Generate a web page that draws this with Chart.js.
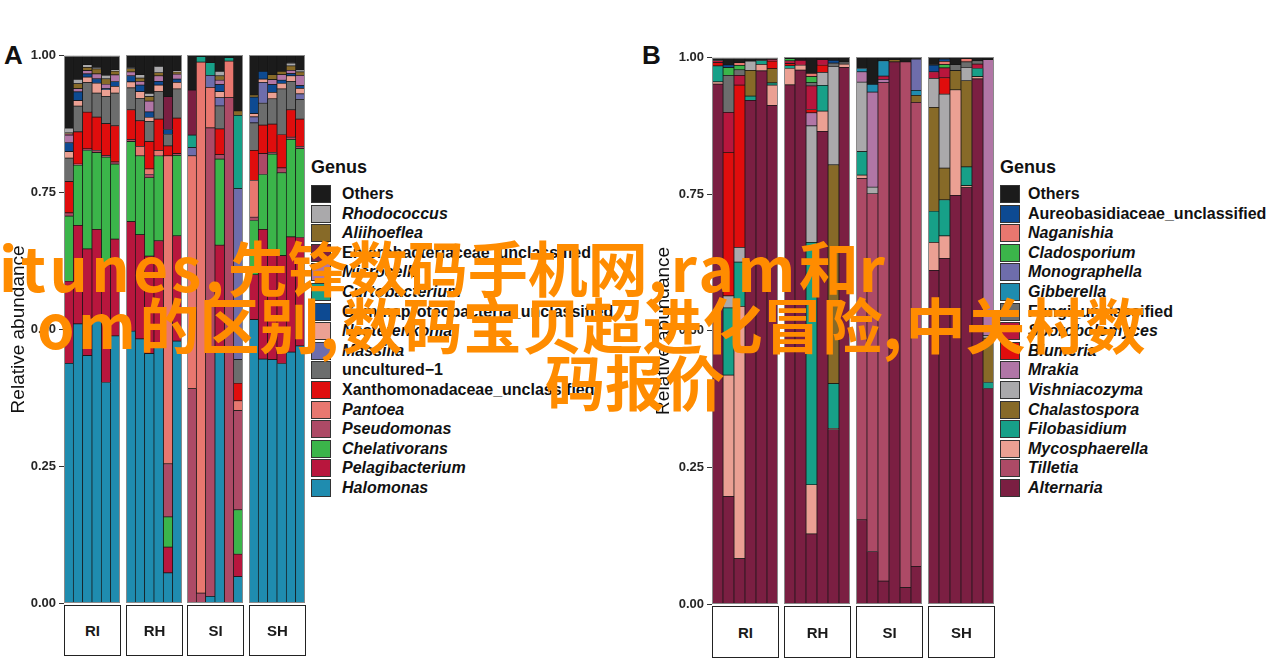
<!DOCTYPE html>
<html>
<head>
<meta charset="utf-8">
<script src="https://cdn.jsdelivr.net/npm/chart.js@4.4.1/dist/chart.umd.min.js"></script>
<style>
  html, body { margin: 0; padding: 0; background: #fff; }
  #page { position: relative; width: 1270px; height: 663px; overflow: hidden; font-family: "Liberation Sans", Arial, sans-serif; }
  canvas { position: absolute; }
  .tag { position: absolute; font: bold 26px "Liberation Sans", Arial, sans-serif; color: #111; }
  .strip { position: absolute; box-sizing: border-box; border: 1px solid #222; background: #fff;
           display: flex; align-items: center; justify-content: center; font: bold 15px "Liberation Sans", Arial, sans-serif; color: #1a1a1a; }
  .legend { position: absolute; }
  .legend .title { position: absolute; left: 0; top: 0; font: bold 18px "Liberation Sans", Arial, sans-serif; color: #111; white-space: nowrap; }
  .legend .key { position: absolute; left: 0; width: 20px; height: 18px; box-sizing: border-box; border: 1px solid #333; }
  .legend .lab { position: absolute; font: bold 16px "Liberation Sans", Arial, sans-serif; color: #111; white-space: nowrap; }
  .ovl { position: absolute; font: bold 60px "Noto Sans CJK SC", sans-serif; line-height: 60px; color: #ff8c00; white-space: nowrap; z-index: 5; }
  .ovl span { letter-spacing: 3.5px; }
</style>
</head>
<body>
<div id="page">
  <div class="tag" style="left:4px;top:40px">A</div>
  <div class="tag" style="left:642px;top:40px">B</div>

  <canvas id="aRI" width="120" height="570" style="left:0px;top:45px"></canvas>
  <canvas id="aRH" width="56" height="570" style="left:126px;top:45px"></canvas>
  <canvas id="aSI" width="56" height="570" style="left:187px;top:45px"></canvas>
  <canvas id="aSH" width="56" height="570" style="left:249px;top:45px"></canvas>

  <canvas id="bRI" width="133" height="570" style="left:645px;top:47px"></canvas>
  <canvas id="bRH" width="66" height="570" style="left:784px;top:47px"></canvas>
  <canvas id="bSI" width="66" height="570" style="left:856px;top:47px"></canvas>
  <canvas id="bSH" width="66" height="570" style="left:928px;top:47px"></canvas>

  <div class="strip" style="left:64px;top:605px;width:57px;height:51px">RI</div>
  <div class="strip" style="left:126px;top:605px;width:57px;height:51px">RH</div>
  <div class="strip" style="left:187px;top:605px;width:57px;height:51px">SI</div>
  <div class="strip" style="left:249px;top:605px;width:57px;height:51px">SH</div>

  <div class="strip" style="left:712px;top:606px;width:67px;height:52px">RI</div>
  <div class="strip" style="left:784px;top:606px;width:67px;height:52px">RH</div>
  <div class="strip" style="left:856px;top:606px;width:67px;height:52px">SI</div>
  <div class="strip" style="left:928px;top:606px;width:67px;height:52px">SH</div>

  <div class="legend" id="legA" style="left:311px;top:157px"></div>
  <div class="legend" id="legB" style="left:1000px;top:157px"></div>

  <div class="ovl" style="left:-1px;top:236px"><span>itunes,</span>先锋数码手机网<span>,ram</span>和<span>r</span></div>
  <div class="ovl" style="left:37px;top:293px"><span>om</span>的区别<span>,</span>数码宝贝超进化冒险<span>,</span>中关村数</div>
  <div class="ovl" style="left:545px;top:350px">码报价</div>
</div>

<script>
// Panel A: bacterial genera (legend order, top of stack first)
const genusA = ['Others', 'Rhodococcus', 'Aliihoeflea', 'Enterobacteriaceae_unclassified', 'Microcella',
  'Curtobacterium', 'Gammaproteobacteria_unclassified', 'Nesterenkonia', 'Massilia', 'uncultured\u22121',
  'Xanthomonadaceae_unclassified', 'Pantoea', 'Pseudomonas', 'Chelativorans', 'Pelagibacterium', 'Halomonas'];
const colorsA = ['#1b1b1b', '#aaa9ab', '#876a28', '#7b1f42', '#b176a6', '#17a088', '#0d4a92', '#eba093',
  '#6e6dab', '#6c6d6d', '#e00d0d', '#e8776f', '#ad4a66', '#3bb54a', '#b8163d', '#1f8caf'];

// Panel B: fungal genera
const genusB = ['Others', 'Aureobasidiaceae_unclassified', 'Naganishia', 'Cladosporium', 'Monographella',
  'Gibberella', 'Fungi_unclassified', 'Sporobolomyces', 'Blumeria', 'Mrakia', 'Vishniacozyma',
  'Chalastospora', 'Filobasidium', 'Mycosphaerella', 'Tilletia', 'Alternaria'];
const colorsB = ['#1b1b1b', '#0d4a92', '#e8776f', '#3bb54a', '#6e6dab', '#1f8caf', '#6c6d6d', '#b8163d',
  '#e00d0d', '#b176a6', '#aaa9ab', '#876a28', '#17a088', '#eba093', '#ad4a66', '#7b1f42'];

const facets = ['RI', 'RH', 'SI', 'SH'];
const yTicks = [0, 0.25, 0.5, 0.75, 1];

// relative abundance per sample, one value per genus (same order as genusA)
const A_RI = [
  [.132, .009, .002, .002, .014, 0, .016, .012, 0, .043, .057, 0, .006, .119, .150, .438],
  [.043, .008, .009, 0, .006, 0, .016, .010, 0, .047, .059, 0, .002, .110, .180, .510],
  [.016, .005, .006, 0, .006, 0, .006, .010, 0, .054, .067, 0, .003, .180, .195, .452],
  [.021, .003, .009, 0, .009, 0, .008, .018, 0, .044, .061, 0, .004, .140, .162, .521],
  [.036, .006, .010, 0, .008, 0, .002, .012, 0, .050, .058, 0, .003, .197, .215, .403],
  [.026, .002, .007, 0, .012, 0, .009, .012, 0, .060, .066, 0, .004, .137, .177, .488]
];
const A_RH = [
  [.023, .002, .006, 0, .007, 0, .011, .011, 0, .040, .054, 0, .004, .146, .200, .496],
  [.036, .006, .006, 0, .007, 0, .012, .012, 0, .041, .047, .017, 0, .144, .190, .482],
  [.070, .006, .008, 0, .020, 0, .010, .007, 0, .037, .050, .010, .006, .143, .178, .455],
  [.021, .011, .006, 0, .010, 0, .007, .012, 0, .050, .057, .009, .001, .155, .191, .470],
  [.076, 0, 0, .060, 0, 0, .009, 0, 0, .021, .018, .562, .097, .055, .047, .055],
  [.029, .002, .004, 0, .009, 0, .006, .012, 0, .053, .065, 0, .003, .147, .192, .478]
];
const A_SI = [
  [.064, 0, 0, .082, 0, .023, 0, 0, .015, 0, 0, .425, .391, 0, 0, 0],
  [.003, 0, 0, 0, 0, .010, 0, 0, 0, 0, 0, .969, .018, 0, 0, 0],
  [.014, 0, 0, 0, 0, .023, 0, 0, .022, 0, 0, .074, .855, 0, 0, .012],
  [.030, .008, .008, 0, .008, 0, .013, .011, .015, .042, .047, 0, .008, .157, .190, .463],
  [.005, 0, 0, 0, 0, .006, 0, 0, 0, 0, 0, .067, .922, 0, 0, 0],
  [.102, 0, .008, 0, 0, .134, 0, 0, .312, .043, .032, .018, .181, .081, .041, .048]
];
const A_SH = [
  [.073, 0, .004, 0, 0, 0, .030, .006, .011, .050, .055, .067, .006, .099, .082, .517],
  [.030, 0, 0, 0, 0, 0, .014, .006, .038, .040, .052, 0, .038, .100, .237, .445],
  [.036, 0, .009, 0, .009, 0, .014, .012, 0, .046, .052, 0, .003, .174, .201, .444],
  [.030, 0, .006, 0, .010, 0, .006, .010, 0, .083, .061, 0, .009, .151, .197, .437],
  [.015, .005, .008, 0, .006, 0, .004, .010, 0, .052, .050, 0, .004, .178, .210, .458],
  [.027, .004, .006, 0, .019, 0, .005, .010, .010, .036, .050, 0, .004, .162, .198, .469]
];

// same layout for panel B (order of genusB)
const B_RI = [
  [.005, 0, 0, 0, 0, 0, 0, .004, .006, 0, 0, 0, .029, .004, 0, .952],
  [.013, .005, 0, .014, 0, 0, .068, .073, .263, 0, .022, 0, .123, .222, 0, .197],
  [.009, 0, .005, .008, 0, 0, .010, .018, .297, 0, .027, 0, .081, .462, 0, .083],
  [.006, 0, 0, 0, 0, 0, 0, 0, 0, 0, .017, .047, .008, 0, 0, .922],
  [.005, 0, 0, 0, 0, 0, 0, 0, 0, 0, 0, 0, .007, .012, 0, .976],
  [.003, 0, 0, 0, 0, 0, 0, .003, .014, 0, 0, .026, .004, .037, 0, .913]
];
const B_RH = [
  [.003, 0, 0, .004, 0, 0, 0, .005, .004, 0, 0, 0, .005, .030, 0, .949],
  [.006, 0, 0, 0, 0, 0, 0, .009, 0, 0, 0, 0, 0, .009, 0, .976],
  [.030, 0, .006, .011, 0, 0, .006, .043, .006, .024, .213, 0, .443, .090, 0, .128],
  [.005, 0, 0, 0, 0, 0, 0, .010, .013, 0, .024, 0, .047, .037, 0, .864],
  [.006, .005, 0, 0, 0, 0, .006, 0, 0, 0, .180, .400, .082, .002, 0, .319],
  [.009, 0, 0, 0, 0, 0, .004, 0, 0, 0, 0, 0, 0, .006, 0, .981]
];
const B_SI = [
  [.021, 0, 0, 0, 0, .006, 0, 0, 0, .019, .127, 0, .043, .006, .624, .154],
  [.050, 0, 0, 0, 0, .014, 0, 0, 0, .174, .012, 0, 0, 0, .654, .096],
  [.007, 0, 0, 0, 0, .028, 0, .006, 0, .006, 0, 0, 0, 0, .911, .042],
  [.005, 0, 0, 0, 0, 0, 0, 0, 0, 0, 0, .004, 0, 0, 0, .991],
  [.009, 0, 0, 0, 0, 0, 0, 0, 0, 0, 0, 0, 0, 0, .961, .030],
  [.004, 0, 0, 0, .057, .009, 0, 0, 0, 0, 0, .013, 0, 0, .848, .069]
];
const B_SH = [
  [.015, .012, 0, 0, 0, 0, 0, .012, 0, 0, .053, .190, .057, .051, 0, .610],
  [.004, .004, .006, .006, 0, 0, 0, .018, .030, 0, .135, .058, .066, .041, 0, .632],
  [.014, 0, 0, 0, 0, 0, .011, 0, 0, 0, 0, .035, 0, .193, 0, .747],
  [.003, 0, .006, 0, 0, 0, .010, 0, 0, 0, .024, .158, .034, .004, 0, .761],
  [.007, 0, 0, 0, 0, 0, .006, .008, 0, 0, 0, 0, .015, .004, 0, .960],
  [.005, 0, 0, 0, 0, 0, 0, 0, 0, .504, .005, .081, .011, 0, 0, .394]
];

// grey panel border like ggplot's theme_bw
const frame = {
  id: 'frame',
  afterDatasetsDraw(chart) {
    const a = chart.chartArea, ctx = chart.ctx;
    ctx.save();
    ctx.strokeStyle = '#8a8a8a';
    ctx.lineWidth = 1;
    ctx.strokeRect(a.left + 0.5, a.top + 0.5, a.right - a.left - 1, a.bottom - a.top - 1);
    ctx.restore();
  }
};

function facetChart(id, samples, colors, axisWidth, bottomPad) {
  const datasets = [];
  // ggplot stacks the first legend entry on top, so push in reverse
  for (let g = colors.length - 1; g >= 0; g--) {
    datasets.push({
      data: samples.map(s => s[g]),
      backgroundColor: colors[g],
      borderColor: '#161616',
      borderWidth: 0.7,
      borderSkipped: false,
      barPercentage: 1,
      categoryPercentage: 1
    });
  }
  new Chart(document.getElementById(id), {
    type: 'bar',
    data: { labels: samples.map((s, i) => i + 1), datasets },
    options: {
      responsive: false,
      animation: false,
      devicePixelRatio: 1,
      layout: { padding: { top: 10, bottom: bottomPad, left: 0, right: 0 } },
      plugins: { legend: { display: false }, tooltip: { enabled: false } },
      scales: {
        x: { stacked: true, display: false },
        y: {
          stacked: true,
          min: 0,
          max: 1,
          display: axisWidth > 0,
          afterFit: (s) => { s.width = axisWidth; },
          afterBuildTicks: (s) => { s.ticks = yTicks.map(v => ({ value: v })); },
          ticks: {
            callback: v => v.toFixed(2),
            font: { family: 'Liberation Sans', size: 13, weight: 'bold' },
            color: '#262626',
            padding: 3
          },
          grid: { drawOnChartArea: false, tickLength: 5, color: '#333' },
          border: { display: false },
          title: {
            display: true,
            text: 'Relative abundance',
            font: { family: 'Liberation Sans', size: 19 },
            color: '#111',
            padding: { top: 7, bottom: 0 }
          }
        }
      }
    },
    plugins: [frame]
  });
}

facetChart('aRI', A_RI, colorsA, 64, 12);
facetChart('aRH', A_RH, colorsA, 0, 12);
facetChart('aSI', A_SI, colorsA, 0, 12);
facetChart('aSH', A_SH, colorsA, 0, 12);

facetChart('bRI', B_RI, colorsB, 67, 13);
facetChart('bRH', B_RH, colorsB, 0, 13);
facetChart('bSI', B_SI, colorsB, 0, 13);
facetChart('bSH', B_SH, colorsB, 0, 13);

function buildLegend(id, names, colors, textLeft) {
  const box = document.getElementById(id);
  let html = '<div class="title">Genus</div>';
  names.forEach((n, i) => {
    const top = 28 + i * 19.6;
    const upright = n === 'Others' || n.indexOf('_') >= 0 || n.indexOf('uncultured') === 0;
    html += '<div class="key" style="top:' + top + 'px;background:' + colors[i] + '"></div>';
    html += '<div class="lab" style="left:' + textLeft + 'px;top:' + top + 'px;font-style:' +
      (upright ? 'normal' : 'italic') + '">' + n + '</div>';
  });
  box.innerHTML = html;
}
buildLegend('legA', genusA, colorsA, 31);
buildLegend('legB', genusB, colorsB, 28);
</script>
</body>
</html>
